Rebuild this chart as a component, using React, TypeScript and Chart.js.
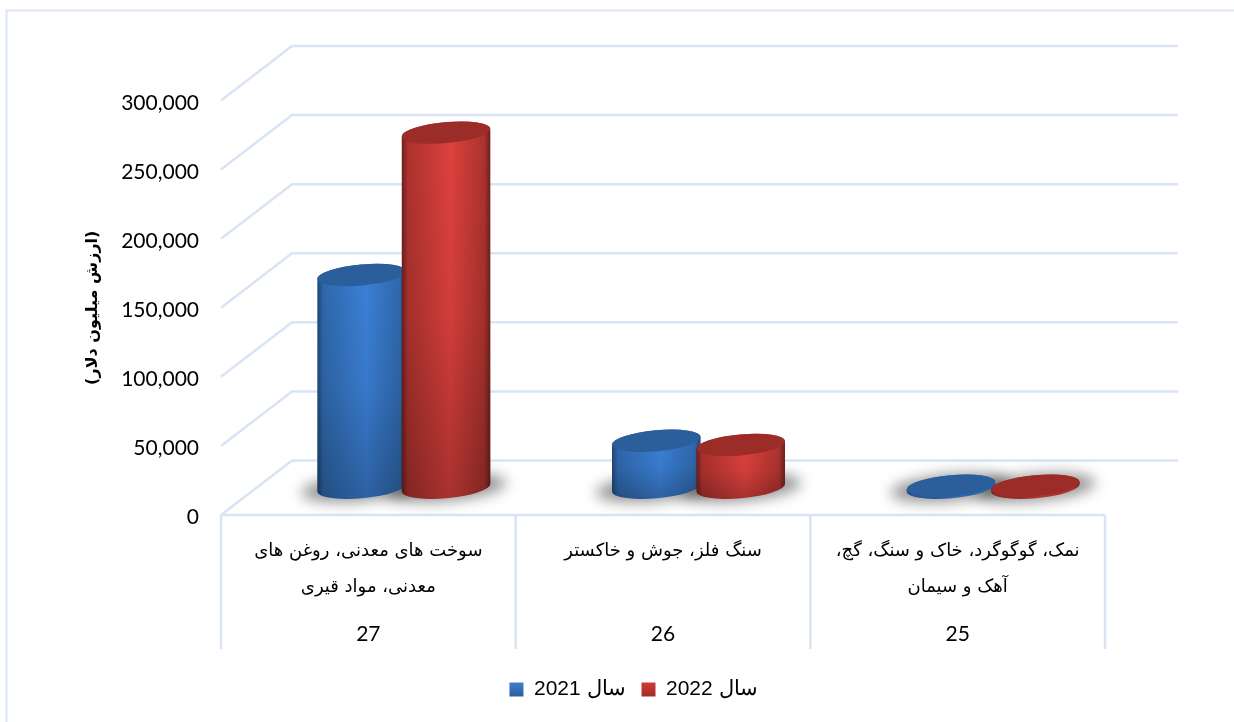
import React, { useEffect, useRef } from "react";
import { Chart, registerables } from "chart.js";

Chart.register(...registerables);

const categories = [
  ["سوخت های معدنی، روغن های", "معدنی، مواد قیری"],
  ["سنگ فلز، جوش و خاکستر"],
  ["نمک، گوگوگرد، خاک و سنگ، گچ،", "آهک و سیمان"],
];
const codes = ["27", "26", "25"];
const series2021 = [154000, 34000, 1500];
const series2022 = [257000, 31000, 1500];
const seriesNames = ["سال 2021", "سال 2022"];
const yTitle = "(ارزش میلیون دلار)";

const GRID = "#d9e4f5";
const DX = 71;
const DY = -54.5;
const LEAN = -0.09;
const MINOR = 10.5;

const palette = [
  { top: "#2b5f9c", edge: "#1d4674", mid: "#2f67ab", light: "#3b80d6", key: ["#3f7fcf", "#2a5f9e"] },
  { top: "#9b2c28", edge: "#6a1f1d", mid: "#ac322e", light: "#de413d", key: ["#d03c38", "#a52d2a"] },
];

function cylinder(ctx: CanvasRenderingContext2D, el: any, c: (typeof palette)[0]) {
  const a = el.width / 2;
  const cx = el.x + DX / 2;
  const top = el.y + DY / 2;
  const base = el.base + DY / 2;
  const t0 = Math.atan(-(MINOR / a) * Math.tan(LEAN));
  ctx.save();
  ctx.beginPath();
  ctx.ellipse(cx, base, a, MINOR, LEAN, t0, t0 + Math.PI, false);
  ctx.ellipse(cx, top, a, MINOR, LEAN, t0 + Math.PI, t0 + 2 * Math.PI, false);
  ctx.closePath();
  const g = ctx.createLinearGradient(cx - a, 0, cx + a, 0);
  g.addColorStop(0, c.edge);
  g.addColorStop(0.07, c.mid);
  g.addColorStop(0.55, c.light);
  g.addColorStop(0.93, c.mid);
  g.addColorStop(1, c.edge);
  ctx.fillStyle = g;
  ctx.fill();
  const v = ctx.createLinearGradient(0, top, 0, base + MINOR);
  v.addColorStop(0, "rgba(0,0,0,0)");
  v.addColorStop(0.5, "rgba(0,0,0,0.06)");
  v.addColorStop(1, "rgba(0,0,0,0.24)");
  ctx.fillStyle = v;
  ctx.fill();
  ctx.beginPath();
  ctx.ellipse(cx, top, a, MINOR, LEAN, 0, Math.PI * 2);
  ctx.fillStyle = c.top;
  ctx.fill();
  ctx.restore();
}

const frame3d = {
  id: "frame3d",
  afterLayout(chart: any) {
    // legend sits right of the centre of the plot
    const lg = chart.legend;
    lg.left += 81;
    lg.right += 81;
  },
  beforeDraw(chart: any) {
    const ctx = chart.ctx;
    ctx.save();
    ctx.fillStyle = "#ffffff";
    ctx.fillRect(0, 0, chart.width, chart.height);
    ctx.strokeStyle = GRID;
    ctx.lineWidth = 2;
    ctx.beginPath();
    ctx.moveTo(6.5, chart.height);
    ctx.lineTo(6.5, 10.5);
    ctx.lineTo(chart.width, 10.5);
    ctx.stroke();
    ctx.restore();
  },
  beforeDatasetsDraw(chart: any) {
    const { ctx, chartArea: ca } = chart;
    const y = chart.scales.y;
    const x = chart.scales.x;
    ctx.save();
    ctx.strokeStyle = GRID;
    ctx.lineWidth = 2.5;
    y.ticks.forEach((t: any) => {
      const py = y.getPixelForValue(t.value);
      ctx.beginPath();
      ctx.moveTo(ca.left, py);
      ctx.lineTo(ca.left + DX, py + DY);
      ctx.lineTo(ca.right + DX + 2, py + DY);
      ctx.stroke();
    });
    ctx.beginPath();
    ctx.moveTo(ca.left, ca.bottom);
    ctx.lineTo(ca.right, ca.bottom);
    const step = ca.width / categories.length;
    for (let i = 0; i <= categories.length; i++) {
      const px = x.getPixelForValue(0) - step / 2 + i * step;
      ctx.moveTo(px, ca.bottom);
      ctx.lineTo(px, 649);
    }
    ctx.stroke();
    ctx.restore();
  },
  afterDatasetsDraw(chart: any) {
    const ctx = chart.ctx;
    const metas = [chart.getDatasetMeta(0), chart.getDatasetMeta(1)];
    ctx.save();
    ctx.filter = "blur(7px)";
    ctx.fillStyle = "rgba(0,0,0,0.42)";
    metas.forEach((m) =>
      m.data.forEach((el: any) => {
        ctx.beginPath();
        ctx.ellipse(el.x + DX / 2, el.base + DY / 2, el.width / 2 + 16, 13.5, LEAN, 0, Math.PI * 2);
        ctx.fill();
      })
    );
    ctx.restore();
    categories.forEach((_, i) => {
      metas.forEach((m, s) => cylinder(ctx, m.data[i], palette[s]));
    });
  },
};

export default function App() {
  const ref = useRef<HTMLCanvasElement>(null);
  useEffect(() => {
    document.body.style.margin = "0";
    const canvas = ref.current!;
    const chart = new Chart(canvas, {
      type: "bar",
      data: {
        labels: categories as any,
        datasets: [
          { label: seriesNames[0], data: series2021, backgroundColor: "transparent" },
          { label: seriesNames[1], data: series2022, backgroundColor: "transparent" },
        ],
      },
      plugins: [frame3d as any],
      options: {
        responsive: false,
        animation: false,
        layout: { padding: { top: 100.5, right: 129, bottom: 12, left: 0 } },
        datasets: { bar: { categoryPercentage: 0.573, barPercentage: 1.053 } },
        plugins: {
          tooltip: { enabled: false },
          legend: {
            position: "bottom",
            labels: {
              boxWidth: 14,
              boxHeight: 14,
              padding: 16,
              color: "#000",
              font: { family: "'Liberation Sans'", size: 21 },
              generateLabels(c: any) {
                return seriesNames.map((text, i) => {
                  const g = c.ctx.createLinearGradient(0, 682, 0, 696);
                  g.addColorStop(0, palette[i].key[0]);
                  g.addColorStop(1, palette[i].key[1]);
                  return { text, fillStyle: g, strokeStyle: "transparent", lineWidth: 0, datasetIndex: i, fontColor: "#000" };
                });
              },
            },
          },
        },
        scales: {
          x: {
            type: "category",
            offset: true,
            afterFit(s: any) { s.height = 100; },
            grid: { display: false, drawTicks: false },
            border: { display: false },
            ticks: {
              autoSkip: false,
              maxRotation: 0,
              minRotation: 0,
              padding: 18,
              color: "#000",
              font: { family: "'DejaVu Sans'", size: 18, lineHeight: "36px" },
            },
          },
          x2: {
            type: "category",
            position: "bottom",
            weight: 1,
            labels: codes,
            offset: true,
            afterFit(s: any) { s.height = 48; },
            grid: { display: false, drawTicks: false },
            border: { display: false },
            ticks: {
              autoSkip: false,
              maxRotation: 0,
              padding: 7,
              color: "#000",
              font: { family: "Lato", size: 21 },
            },
          },
          y: {
            min: 0,
            max: 300000,
            afterFit(s: any) { s.width = 221; },
            grid: { display: false, drawTicks: false },
            border: { display: false },
            title: {
              display: true,
              text: yTitle,
              color: "#000",
              font: { family: "'DejaVu Sans'", size: 16, weight: "bold" },
              padding: { top: 83, bottom: 0 },
            },
            ticks: {
              stepSize: 50000,
              padding: 22,
              color: "#000",
              font: { family: "Lato", size: 21, lineHeight: "5px" },
              // an empty first line nudges the label down to sit where the reference has it
              callback: (v: any) => ["", Number(v).toLocaleString("en-US")],
            },
          },
        },
      } as any,
    });
    return () => chart.destroy();
  }, []);
  return (
    <div style={{ width: 1234, height: 722, background: "#fff" }}>
      <canvas ref={ref} width={1234} height={722} dir="rtl" style={{ display: "block", width: 1234, height: 722 }} />
    </div>
  );
}
